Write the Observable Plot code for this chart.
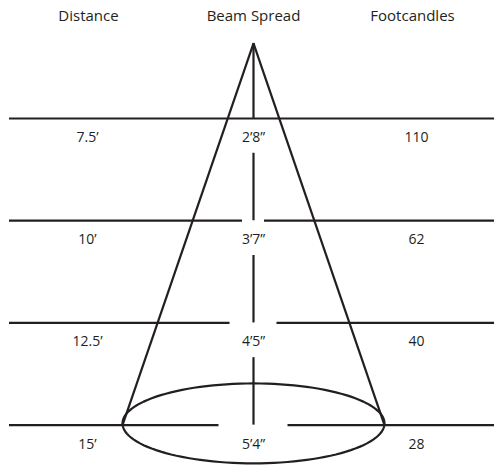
<!DOCTYPE html>
<html>
<head>
<meta charset="utf-8">
<script src="https://cdn.jsdelivr.net/npm/d3@7"></script>
<script src="https://cdn.jsdelivr.net/npm/@observablehq/plot@0.6"></script>
<style>
  html, body { margin: 0; padding: 0; background: #fff; }
</style>
</head>
<body>
<div id="chart"></div>
<script>
// ---- Data ----
const headers = ["Distance", "Beam Spread", "Footcandles"];
const distances = ["7.5’", "10’", "12.5’", "15’"];
const beamSpreads = ["2’8”", "3’7”", "4’5”", "5’4”"];
const footcandles = ["110", "62", "40", "28"];

// ---- Diagram geometry (abstract units: x lateral, y = distance level) ----
const levels = [0, 1, 2, 3];
const apexLevel = -0.735;
const coneHalfWidth = 131;           // half beam width at last level
const gapHalf = [0, 11, 23.5, 34.5]; // gaps in horizontal lines around centre
const colX = [-166, 0, 163];          // label column centres
const headerX = [-165, 0, 159];
const xLeft = -244, xRight = 241;
const labelOffset = 0.185;
const segStart = 0.34;
const ink = "#231f20";

const rows = levels.map((l, i) => ({level: l, dist: distances[i], beam: beamSpreads[i], fc: footcandles[i], gap: gapHalf[i]}));

// horizontal rules split by gap
const hsegs = rows.flatMap(r => [
  {x1: xLeft, x2: -r.gap, y: r.level},
  {x1: r.gap, x2: xRight, y: r.level}
]);

// central vertical segments
const vsegs = [{y1: apexLevel, y2: 0}].concat(
  levels.slice(0, 3).map(l => ({y1: l + segStart, y2: l + 1}))
);

// cone sides
const last = levels[levels.length - 1];
const cone = [
  {x1: 0, y1: apexLevel, x2: -coneHalfWidth, y2: last},
  {x1: 0, y1: apexLevel, x2: coneHalfWidth, y2: last}
];

// ellipse outline at the last level
const ellCy = last - 0.017, ellRy = 0.391;
const ellipse = d3.range(0, 361, 3).map(a => ({
  x: coneHalfWidth * Math.cos(a * Math.PI / 180),
  y: ellCy + ellRy * Math.sin(a * Math.PI / 180)
}));

const labels = rows.flatMap(r => [
  {x: colX[0], y: r.level + labelOffset, t: r.dist},
  {x: colX[1], y: r.level + labelOffset, t: r.beam},
  {x: colX[2], y: r.level + labelOffset, t: r.fc}
]);
const heads = headers.map((h, i) => ({x: headerX[i], y: -1.005, t: h}));

const chart = Plot.plot({
  width: 494,
  height: 465,
  margin: 0,
  x: {domain: [-253, 241], axis: null},
  y: {domain: [-1.1546, 3.395], reverse: true, axis: null},
  style: {fontFamily: "'Open Sans', sans-serif", background: "#fff"},
  marks: [
    Plot.ruleY(hsegs, {y: "y", x1: "x1", x2: "x2", stroke: ink, strokeWidth: 2.2}),
    Plot.ruleX(vsegs, {x: 0, y1: "y1", y2: "y2", stroke: ink, strokeWidth: 2.2}),
    Plot.link(cone, {x1: "x1", y1: "y1", x2: "x2", y2: "y2", stroke: ink, strokeWidth: 2.2}),
    Plot.line(ellipse, {x: "x", y: "y", stroke: ink, strokeWidth: 2.2, curve: "linear"}),
    Plot.text(labels, {x: "x", y: "y", text: "t", fill: ink, fontSize: 14}),
    Plot.text(heads, {x: "x", y: "y", text: "t", fill: ink, fontSize: 15})
  ]
});
document.getElementById("chart").appendChild(chart);
</script>
</body>
</html>
